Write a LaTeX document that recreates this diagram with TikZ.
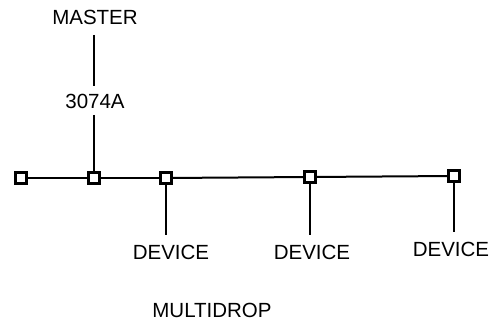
\documentclass[tikz,border=0pt]{standalone}
\usepackage{fontspec}
\setmainfont{Liberation Sans}
\usetikzlibrary{positioning}

\begin{document}
\begin{tikzpicture}[
    x=1pt, y=-1pt,
    tap/.style={rectangle, draw=black, fill=white, line width=2.4pt, minimum size=11pt, inner sep=0pt},
    label/.style={font=\fontsize{20.5}{22}\selectfont, inner sep=1pt},
    wire/.style={line width=2pt}
]
\useasboundingbox (0,0) rectangle (496,321);

\node[tap] (s0) at (21,178) {};
\node[tap] (s1) at (94,178) {};
\node[tap] (s2) at (166,178) {};
\node[tap] (s3) at (310,177) {};
\node[tap] (s4) at (454,176) {};

\node[label] (master) at (95,17) {MASTER};
\node[label] (modem) at (95,101) {3074A};

\node[label] (dev1) at (171,252) {DEVICE};
\node[label] (dev2) at (312,252) {DEVICE};
\node[label] (dev3) at (451,249) {DEVICE};

\node[label] (title) at (212,310) {MULTIDROP};

\coordinate (m0) at (94,35);
\coordinate (m1) at (94,86);
\coordinate (m2) at (94,115);
\coordinate (d1) at (166,235);
\coordinate (d2) at (310,235);
\coordinate (d3) at (454,232);

\draw[wire] (s0) -- (s1);
\draw[wire] (s1) -- (s2);
\draw[wire] (s2) -- (s3);
\draw[wire] (s3) -- (s4);

\draw[wire] (m0) -- (m1);
\draw[wire] (m2) -- (s1);

\draw[wire] (s2) -- (d1);
\draw[wire] (s3) -- (d2);
\draw[wire] (s4) -- (d3);
\end{tikzpicture}
\end{document}
